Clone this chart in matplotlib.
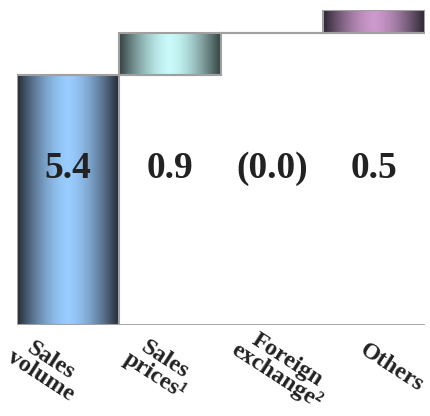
import numpy as np
import matplotlib.pyplot as plt
from matplotlib.colors import LinearSegmentedColormap

categories = ['Sales\nvolume', 'Sales\nprices\u00b9', 'Foreign\nexchange\u00b2', 'Others']
values = [5.4, 0.9, 0.0, 0.5]
value_labels = ['5.4', '0.9', '(0.0)', '0.5']
# center / edge colours of each bar's horizontal gradient
center_colors = ['#99ccff', '#c8fafa', '#ffffff', '#cc99cc']
edge_colors = ['#252a33', '#33403f', '#888888', '#2a2530']

plt.rcParams['font.family'] = ['Liberation Serif', 'DejaVu Serif']

fig = plt.figure(figsize=(4.30, 4.16), dpi=100)
ax = fig.add_axes([17 / 430, 91 / 416, 408 / 430, 315 / 416])

x = np.arange(len(values))
bottoms = np.concatenate([[0], np.cumsum(values)[:-1]])
total = sum(values)

bars = ax.bar(x, values, bottom=bottoms, width=1.0, align='center',
              facecolor='none', edgecolor='#a0a0a0', linewidth=1.5, zorder=3)

grad = np.abs(np.linspace(-1, 1, 256))[None, :]
for bar, c0, c1 in zip(bars, center_colors, edge_colors):
    if bar.get_height() <= 0:
        continue
    cmap = LinearSegmentedColormap.from_list('g', [c0, c1])
    im = ax.imshow(grad ** 1.6, cmap=cmap, aspect='auto', zorder=2,
                   extent=(bar.get_x(), bar.get_x() + bar.get_width(),
                           bar.get_y(), bar.get_y() + bar.get_height()))
    im.set_clip_path(bar)

# connector lines between steps
tops = bottoms + np.array(values)
for i in range(len(values) - 1):
    ax.plot([x[i] + 0.5, x[i + 1] + 0.5], [tops[i], tops[i]], color='#a0a0a0', lw=1.5, zorder=2)

ax.axhline(0, color='#a0a0a0', lw=2, zorder=4)

ax.set_xlim(-0.5, len(values) - 0.5)
ax.set_ylim(0, total)
ax.axis('off')

label_y = 159 / 315 * total
for xi, lab in zip(x, value_labels):
    ax.text(xi, total - label_y, lab, ha='center', va='center', fontsize=27,
            fontweight='bold', color='#222222', zorder=5)

label_dx = [-0.22, -0.1, 0.09, 0.17]
for xi, lab, dx in zip(x, categories, label_dx):
    ax.text(xi + dx, -0.93, lab, ha='center', va='center', rotation=-33,
            rotation_mode='anchor', fontsize=17.5, fontweight='bold',
            color='#222222', linespacing=0.85, multialignment='center')

fig.savefig('out.png', dpi=100)
